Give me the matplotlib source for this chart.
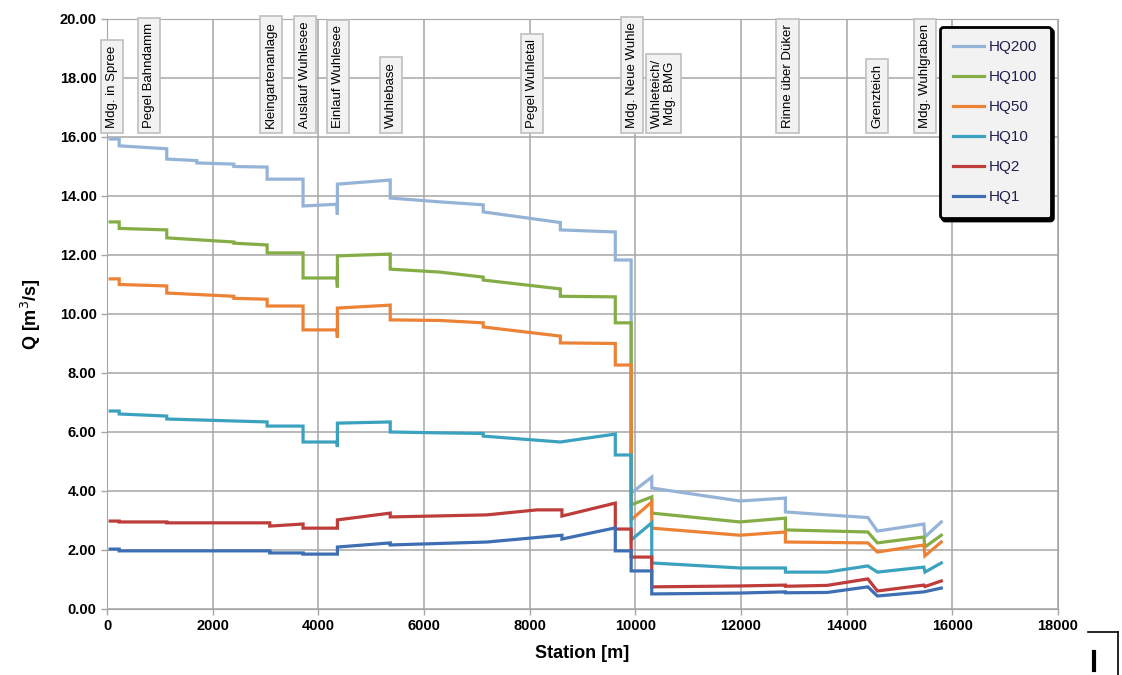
import matplotlib
matplotlib.use("Agg")
import matplotlib.pyplot as plt
from matplotlib.lines import Line2D

plt.rcParams['font.family'] = ['Liberation Sans', 'DejaVu Sans']

# station [m] and discharge [m3/s] per series (repeated stations = steps)
st_hq200 = [60, 230, 230, 1130, 1130, 1700, 1700, 2400, 2400, 3030, 3030, 3710, 3710, 4350, 4360, 4360,
            5360, 5360, 6300, 7120, 7120, 8580, 8580, 9620, 9620, 9920, 9920, 10310, 10310, 11980,
            12840, 12840, 13630, 14400, 14580, 15460, 15480, 15790]
q_hq200 = [15.93, 15.93, 15.70, 15.60, 15.25, 15.20, 15.12, 15.08, 15.00, 14.98, 14.57, 14.57, 13.66, 13.72, 13.36, 14.40,
           14.54, 13.93, 13.80, 13.70, 13.46, 13.10, 12.85, 12.78, 11.83, 11.83, 3.93, 4.47, 4.10, 3.66,
           3.76, 3.29, 3.19, 3.10, 2.64, 2.88, 2.44, 2.95]

st_hq100 = [60, 230, 230, 1130, 1130, 2400, 2400, 3030, 3030, 3710, 3710, 4350, 4360, 4360,
            5360, 5360, 6300, 7120, 7120, 8580, 8580, 9620, 9620, 9920, 9920, 10310, 10310, 11980,
            12840, 12840, 14400, 14580, 15460, 15480, 15790]
q_hq100 = [13.12, 13.12, 12.90, 12.85, 12.58, 12.44, 12.40, 12.34, 12.07, 12.07, 11.22, 11.22, 10.90, 11.97,
           12.03, 11.52, 11.42, 11.25, 11.15, 10.85, 10.60, 10.58, 9.70, 9.70, 3.53, 3.80, 3.25, 2.95,
           3.08, 2.68, 2.61, 2.24, 2.44, 2.10, 2.50]

st_hq50 = [60, 230, 230, 1130, 1130, 2400, 2400, 3030, 3030, 3710, 3710, 4350, 4360, 4360,
           5360, 5360, 6300, 7120, 7120, 8580, 8580, 9620, 9620, 9920, 9920, 10310, 10310, 11980,
           12840, 12840, 14400, 14580, 15460, 15480, 15790]
q_hq50 = [11.19, 11.19, 11.00, 10.95, 10.71, 10.60, 10.53, 10.50, 10.27, 10.27, 9.46, 9.46, 9.19, 10.20,
          10.30, 9.80, 9.78, 9.70, 9.56, 9.25, 9.02, 9.00, 8.27, 8.27, 3.02, 3.63, 2.74, 2.50,
          2.61, 2.27, 2.24, 1.93, 2.17, 1.80, 2.27]

st_hq10 = [60, 230, 230, 1130, 1130, 3030, 3030, 3710, 3710, 4350, 4360, 4360,
           5360, 5360, 6300, 7120, 7120, 8580, 9620, 9620, 9920, 9920, 10310, 10310, 11980,
           12840, 12840, 13630, 14400, 14580, 15460, 15480, 15790]
q_hq10 = [6.71, 6.71, 6.61, 6.54, 6.44, 6.34, 6.20, 6.20, 5.66, 5.66, 5.49, 6.30,
          6.34, 6.00, 5.97, 5.95, 5.86, 5.66, 5.93, 5.22, 5.22, 2.34, 2.92, 1.56, 1.39,
          1.39, 1.25, 1.25, 1.46, 1.25, 1.42, 1.25, 1.56]

st_hq2 = [60, 230, 230, 1130, 1130, 3080, 3080, 3710, 3710, 4360, 4360, 5360, 5360, 7190, 8140,
          8610, 8610, 9620, 9620, 9920, 9920, 10310, 10310, 11980, 12840, 12840, 13630, 14400, 14580,
          15460, 15480, 15790]
q_hq2 = [2.98, 2.98, 2.95, 2.95, 2.92, 2.92, 2.81, 2.88, 2.74, 2.74, 3.02, 3.25, 3.12, 3.19, 3.36,
         3.36, 3.15, 3.59, 2.71, 2.71, 1.76, 1.76, 0.75, 0.78, 0.81, 0.77, 0.80, 1.02, 0.61,
         0.81, 0.76, 0.95]

st_hq1 = [60, 230, 230, 3080, 3080, 3710, 3710, 4360, 4360, 5360, 5360, 7190,
          8610, 8610, 9620, 9620, 9920, 9920, 10310, 10310, 11980, 12840, 12840, 13630, 14400, 14580,
          15460, 15790]
q_hq1 = [2.03, 2.03, 1.97, 1.97, 1.90, 1.90, 1.86, 1.86, 2.10, 2.24, 2.17, 2.27,
         2.50, 2.37, 2.75, 1.97, 1.97, 1.29, 1.29, 0.51, 0.54, 0.58, 0.55, 0.56, 0.75, 0.44,
         0.58, 0.71]

series = [
    ("HQ200", st_hq200, q_hq200, "#95B3D7"),
    ("HQ100", st_hq100, q_hq100, "#84AE45"),
    ("HQ50", st_hq50, q_hq50, "#EC8236"),
    ("HQ10", st_hq10, q_hq10, "#3AA2BE"),
    ("HQ2", st_hq2, q_hq2, "#BE3C3A"),
    ("HQ1", st_hq1, q_hq1, "#3E6EB3"),
]

# station labels
mark_st = [95, 795, 3105, 3745, 4375, 5375, 8045, 9935, 10530, 12880, 14575, 15485]
mark_names = ["Mdg. in Spree", "Pegel Bahndamm", "Kleingartenanlage", "Auslauf Wuhlesee",
              "Einlauf Wuhlesee", "Wuhlebase", "Pegel Wuhletal", "Mdg. Neue Wuhle",
              "Wuhleteich/\nMdg. BMG", "Rinne über Düker", "Grenzteich", "Mdg. Wuhlgraben"]

fig = plt.figure(figsize=(11.22, 6.75), dpi=100)
ax = fig.add_axes([0.0954, 0.0978, 0.8476, 0.8741])

for name, st, q, col in series:
    ax.plot(st, q, color=col, lw=2.3, label=name, solid_joinstyle='miter')

ax.set_xlim(0, 18000)
ax.set_ylim(0, 20)
ax.set_xticks(range(0, 18001, 2000))
ax.set_yticks(range(0, 21, 2))
ax.set_yticklabels([f"{v:.2f}" for v in range(0, 21, 2)])
ax.grid(True, color="#A6A6A6", lw=1.1)
ax.set_axisbelow(True)
for sp in ax.spines.values():
    sp.set_color("#A6A6A6")
ax.tick_params(colors="#A6A6A6", labelcolor="black", length=4, width=1)
for lab in ax.get_xticklabels() + ax.get_yticklabels():
    lab.set_fontweight("bold")
    lab.set_fontsize(10.5)

ax.set_xlabel("Station [m]", fontsize=13, fontweight="bold", labelpad=8)
ax.set_ylabel("Q [m$^3$/s]", fontsize=13, fontweight="bold", labelpad=12)

for s, n in zip(mark_st, mark_names):
    ax.text(s, 16.3, n, rotation=90, ha="center", va="bottom", fontsize=9.5,
            multialignment="center", clip_on=False, zorder=5, linespacing=1.1,
            bbox=dict(boxstyle="square,pad=0.4", fc="#F2F2F2", ec="#BFBFBF", lw=1.2))

leg = ax.legend(loc="upper right", bbox_to_anchor=(0.997, 0.995), fontsize=11,
                fancybox=True, shadow={"color": "black", "alpha": 1.0},
                handlelength=2.0, labelspacing=1.05, borderpad=0.9, handletextpad=0.3,
                borderaxespad=0.3, framealpha=1)
leg.get_frame().set_facecolor("#F2F2F2")
leg.get_frame().set_edgecolor("black")
leg.get_frame().set_linewidth(2)
leg.set_zorder(6)
for t in leg.get_texts():
    t.set_color("#1F1F4F")

# cropped corner artefact at the bottom right
fig.add_artist(Line2D([1088 / 1122, 1118 / 1122], [1 - 632 / 675, 1 - 632 / 675], color="black", lw=1.2))
fig.add_artist(Line2D([1118 / 1122, 1118 / 1122], [1 - 632 / 675, 0], color="black", lw=1.2))
fig.add_artist(Line2D([1094 / 1122, 1094 / 1122], [1 - 652 / 675, 1 - 670 / 675], color="black", lw=3))

fig.savefig("out.png", dpi=100)
